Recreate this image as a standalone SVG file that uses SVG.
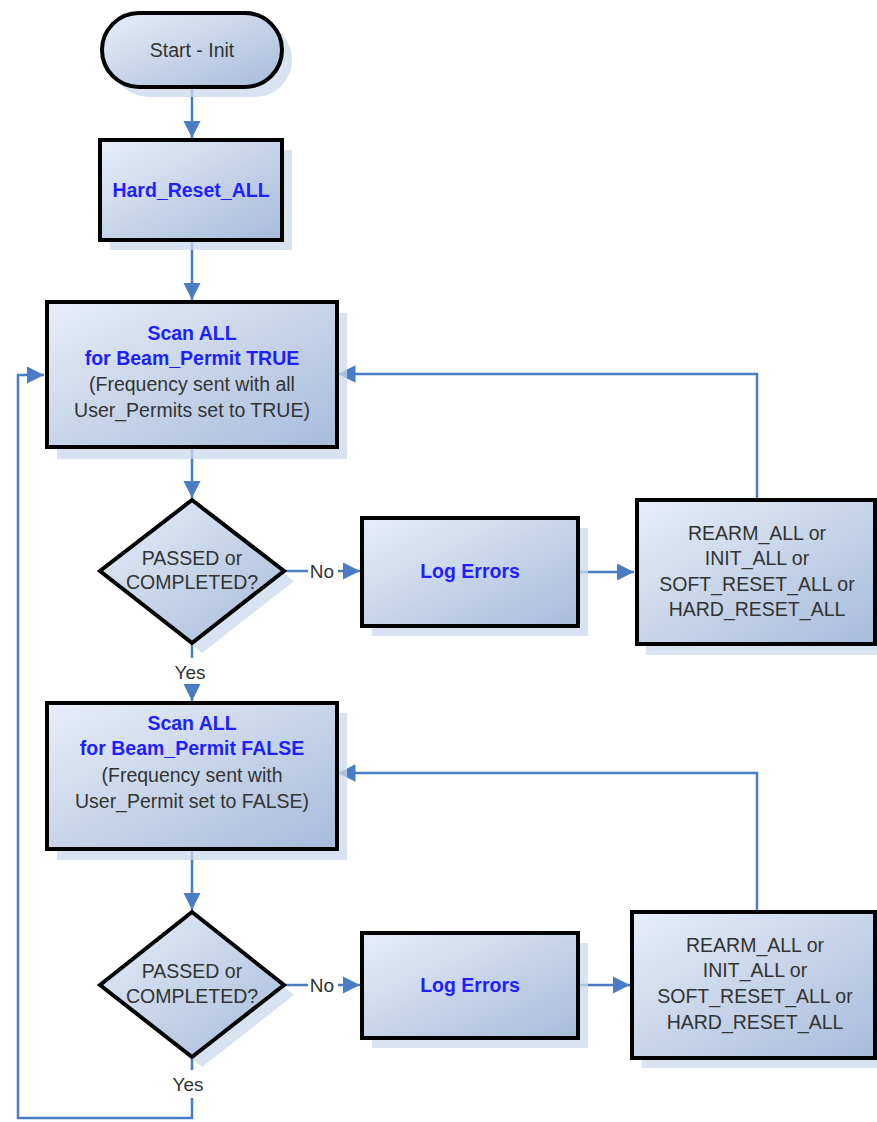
<svg xmlns="http://www.w3.org/2000/svg" width="877" height="1122" viewBox="0 0 877 1122">
  <style>
    .shape { stroke: #000; stroke-width: 4; fill: url(#fillGrad); }
    .shadow { fill: #cbd8ec; opacity: 0.75; }
    .conn { stroke: #4a7cc4; stroke-width: 2.5; fill: none; }
    .t { font-family: "Liberation Sans", Arial, sans-serif; font-size: 19.5px; text-anchor: middle; fill: #333; }
    .b { font-weight: bold; fill: #1f1fff; }
    .lbl { font-family: "Liberation Sans", Arial, sans-serif; font-size: 19px; text-anchor: middle; fill: #333; }
  </style>
  <defs>
    <linearGradient id="fillGrad" x1="0" y1="0" x2="1" y2="1">
      <stop offset="0" stop-color="#e8eef8"/>
      <stop offset="1" stop-color="#a6bbdb"/>
    </linearGradient>
    <marker id="arrow" viewBox="0 0 10 10" refX="10" refY="5" markerWidth="7" markerHeight="7" markerUnits="strokeWidth" orient="auto">
      <path d="M0,0 L10,5 L0,10 z" fill="#4a7cc4"/>
    </marker>
  </defs>
  <rect width="877" height="1122" fill="#fff"/>

  <!-- connectors -->
  <g id="connectors">
    <path class="conn" d="M192,87 V138" marker-end="url(#arrow)"/>
    <path class="conn" d="M192,240 V300" marker-end="url(#arrow)"/>
    <path class="conn" d="M192,447 V498" marker-end="url(#arrow)"/>
    <path class="conn" d="M284,571 H308 M338,571 H360" marker-end="url(#arrow)"/>
    <path class="conn" d="M578,572 H634" marker-end="url(#arrow)"/>
    <path class="conn" d="M757,499 V374 H338" marker-end="url(#arrow)"/>
    <path class="conn" d="M192,643 V658 M192,686 V701" marker-end="url(#arrow)"/>
    <path class="conn" d="M192,849 V910" marker-end="url(#arrow)"/>
    <path class="conn" d="M284,985 H308 M338,985 H360" marker-end="url(#arrow)"/>
    <path class="conn" d="M578,985 H630" marker-end="url(#arrow)"/>
    <path class="conn" d="M757,911 V773 H338" marker-end="url(#arrow)"/>
    <path class="conn" d="M192,1057 V1070 M192,1098 V1118 H18 V375 H44" marker-end="url(#arrow)"/>
    <text class="lbl" x="322" y="578">No</text>
    <text class="lbl" x="190" y="679">Yes</text>
    <text class="lbl" x="322" y="992">No</text>
    <text class="lbl" x="188" y="1091">Yes</text>
  </g>

  <g id="start">
    <rect class="shadow" x="112" y="23" width="180" height="74" rx="37"/>
    <rect class="shape" x="102" y="13" width="180" height="74" rx="37"/>
    <text class="t" x="192" y="57">Start - Init</text>
  </g>

  <g id="hard-reset">
    <rect class="shadow" x="110" y="150" width="182" height="100"/>
    <rect class="shape" x="100" y="140" width="182" height="100"/>
    <text class="t b" x="191" y="197">Hard_Reset_ALL</text>
  </g>

  <g id="scan-true">
    <rect class="shadow" x="57" y="313" width="290" height="146"/>
    <rect class="shape" x="47" y="302" width="290" height="145"/>
    <text class="t b" x="192" y="340">Scan ALL</text>
    <text class="t b" x="192" y="365">for Beam_Permit TRUE</text>
    <text class="t" x="192" y="391">(Frequency sent with all</text>
    <text class="t" x="192" y="417">User_Permits set to TRUE)</text>
  </g>

  <g id="check-true">
    <polygon class="shadow" points="202,510 294,581 202,653 110,581"/>
    <polygon class="shape" points="192,500 284,571 192,643 100,571"/>
    <text class="t" x="192" y="565">PASSED or</text>
    <text class="t" x="192" y="589">COMPLETED?</text>
  </g>

  <g id="log-errors-1">
    <rect class="shadow" x="372" y="528" width="216" height="108"/>
    <rect class="shape" x="362" y="518" width="216" height="108"/>
    <text class="t b" x="470" y="578">Log Errors</text>
  </g>

  <g id="recover-1">
    <rect class="shadow" x="646" y="510" width="241" height="145"/>
    <rect class="shape" x="637" y="500" width="238" height="144"/>
    <text class="t" x="757" y="540">REARM_ALL or</text>
    <text class="t" x="757" y="565">INIT_ALL or</text>
    <text class="t" x="757" y="591">SOFT_RESET_ALL or</text>
    <text class="t" x="757" y="616">HARD_RESET_ALL</text>
  </g>

  <g id="scan-false">
    <rect class="shadow" x="57" y="713" width="290" height="147"/>
    <rect class="shape" x="47" y="703" width="290" height="146"/>
    <text class="t b" x="192" y="730">Scan ALL</text>
    <text class="t b" x="192" y="755">for Beam_Permit FALSE</text>
    <text class="t" x="192" y="782">(Frequency sent with</text>
    <text class="t" x="192" y="808">User_Permit set to FALSE)</text>
  </g>

  <g id="check-false">
    <polygon class="shadow" points="202,922 294,995 202,1067 110,995"/>
    <polygon class="shape" points="192,912 284,985 192,1057 100,985"/>
    <text class="t" x="192" y="978">PASSED or</text>
    <text class="t" x="192" y="1003">COMPLETED?</text>
  </g>

  <g id="log-errors-2">
    <rect class="shadow" x="372" y="943" width="216" height="105"/>
    <rect class="shape" x="362" y="933" width="216" height="105"/>
    <text class="t b" x="470" y="992">Log Errors</text>
  </g>

  <g id="recover-2">
    <rect class="shadow" x="642" y="922" width="245" height="146"/>
    <rect class="shape" x="632" y="912" width="243" height="146"/>
    <text class="t" x="755" y="952">REARM_ALL or</text>
    <text class="t" x="755" y="977">INIT_ALL or</text>
    <text class="t" x="755" y="1003">SOFT_RESET_ALL or</text>
    <text class="t" x="755" y="1029">HARD_RESET_ALL</text>
  </g>
</svg>
